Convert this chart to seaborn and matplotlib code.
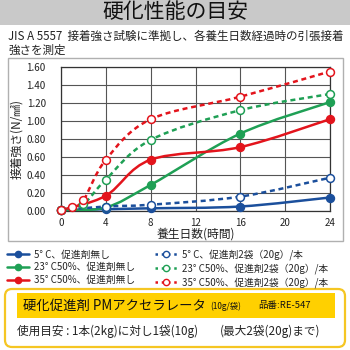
import numpy as np
import pandas as pd
import seaborn as sns
import matplotlib.pyplot as plt
from matplotlib.path import Path
from matplotlib.patches import PathPatch, Rectangle, FancyBboxPatch
from matplotlib.lines import Line2D

# curing hours and bond strength (N/mm2)
hours_plain = [0, 4, 8, 16, 24]
blue_plain = [0.01, 0.02, 0.03, 0.05, 0.15]
green_plain = [0.01, 0.04, 0.29, 0.86, 1.21]
red_plain = [0.01, 0.17, 0.57, 0.71, 1.02]

hours_blue_acc = [0, 4, 8, 16, 24]
blue_acc = [0.01, 0.05, 0.07, 0.16, 0.37]
hours_green_acc = [0, 2, 4, 8, 16, 24]
green_acc = [0.01, 0.08, 0.35, 0.79, 1.12, 1.30]
hours_red_acc = [0, 1, 2, 4, 8, 16, 24]
red_acc = [0.01, 0.05, 0.12, 0.57, 1.02, 1.27, 1.55]

labels_plain = ["5° C、促進剤無し", "23° C50%、促進剤無し", "35° C50%、促進剤無し"]
labels_acc = ["5° C、促進剤2袋（20g）/本", "23° C50%、促進剤2袋（20g）/本",
              "35° C50%、促進剤2袋（20g）/本"]

BLUE, GREEN, RED = "#1b4f9c", "#1fa055", "#e3141c"

sns.set_theme(style="white")
plt.rcParams["font.family"] = ["Noto Sans CJK JP", "DejaVu Sans"]


def smooth_path(xs, ys):
    # Excel style smoothed line as cubic Bezier segments through the points
    p = np.column_stack([xs, ys]).astype(float)
    n = len(p)
    verts = [p[0]]
    codes = [Path.MOVETO]
    for i in range(n - 1):
        p0 = p[i - 1] if i > 0 else p[i]
        p3 = p[i + 2] if i + 2 < n else p[i + 1]
        c1 = p[i] + (p[i + 1] - p0) / 6
        c2 = p[i + 1] - (p3 - p[i]) / 6
        verts += [c1, c2, p[i + 1]]
        codes += [Path.CURVE4] * 3
    return Path(verts, codes)


fig = plt.figure(figsize=(3.5, 3.5), dpi=100)
fig.patch.set_facecolor("white")

# header
fig.patches.append(Rectangle((0, 1 - 25 / 350), 1, 25 / 350, transform=fig.transFigure,
                             facecolor="#c9c9c9", edgecolor="none"))
fig.text(0.5, 1 - 12.5 / 350, "硬化性能の目安", ha="center", va="center",
         fontsize=15, color="#111111")
fig.text(8 / 350, 1 - 36 / 350, "JIS A 5557  接着強さ試験に準拠し、各養生日数経過時の引張接着",
         ha="left", va="center", fontsize=8.3, color="#222222")
fig.text(8 / 350, 1 - 50 / 350, "強さを測定", ha="left", va="center", fontsize=8.3,
         color="#222222")

# chart frame
fig.patches.append(Rectangle((8 / 350, 1 - 241 / 350), 335 / 350, 183 / 350,
                             transform=fig.transFigure, facecolor="none",
                             edgecolor="#b0b0b0", linewidth=1))

ax = fig.add_axes([61 / 350, 1 - 211 / 350, 269 / 350, 144 / 350])
ax.set_xlim(0, 24)
ax.set_ylim(0, 1.6)
ax.set_xticks(range(0, 25, 4))
ax.set_yticks(np.arange(0, 1.61, 0.2))
ax.set_yticklabels([f"{v:.2f}" for v in np.arange(0, 1.61, 0.2)])
ax.grid(True, color="#555555", linewidth=0.8)
for s in ax.spines.values():
    s.set_color("#333333")
    s.set_linewidth(0.9)
ax.tick_params(axis="y", length=0, labelsize=7, colors="#222222", pad=11)
ax.tick_params(axis="x", length=0, labelsize=7, colors="#222222", pad=5)

series = [
    (hours_plain, blue_plain, BLUE, "-", True),
    (hours_plain, green_plain, GREEN, "-", True),
    (hours_plain, red_plain, RED, "-", True),
    (hours_blue_acc, blue_acc, BLUE, (0, (2, 1.5)), False),
    (hours_green_acc, green_acc, GREEN, (0, (2, 1.5)), False),
    (hours_red_acc, red_acc, RED, (0, (2, 1.5)), False),
]
for xs, ys, col, ls, filled in series:
    ax.add_patch(PathPatch(smooth_path(xs, ys), facecolor="none", edgecolor=col,
                           linewidth=1.8, linestyle=ls, zorder=3))
for xs, ys, col, ls, filled in series:
    df = pd.DataFrame({"h": xs, "v": ys})
    sns.scatterplot(data=df, x="h", y="v", ax=ax, s=32, marker="o",
                    facecolor=col if filled else "white", edgecolor=col,
                    linewidth=1.1, zorder=4, clip_on=False)
ax.set_xlabel("養生日数(時間)", fontsize=8.5, labelpad=0, color="#222222")
ax.set_ylabel("接着強さ(N/㎟)", fontsize=8.5, labelpad=2, color="#222222")

# legend
handles = []
for col in (BLUE, GREEN, RED):
    handles.append(Line2D([], [], color=col, lw=1.8, marker="o", markersize=4.5,
                          markerfacecolor=col, markeredgecolor=col))
for col in (BLUE, GREEN, RED):
    handles.append(Line2D([], [], color=col, lw=1.8, ls=(0, (1, 1.5)), marker="o",
                          markersize=4.5, markerfacecolor="white", markeredgecolor=col))
fig.legend(handles, labels_plain + labels_acc, ncol=2, loc="upper left",
           bbox_to_anchor=(7 / 350, 1 - 249 / 350), frameon=False, fontsize=7.0,
           handlelength=2.3, handletextpad=0.5, columnspacing=2.0, labelspacing=0.3,
           borderaxespad=0, borderpad=0)

# product box
fig.patches.append(FancyBboxPatch((5 / 350, 3 / 350), 340 / 350, 58 / 350,
                                  boxstyle="round,pad=0,rounding_size=0.02",
                                  transform=fig.transFigure, facecolor="white",
                                  edgecolor="#f5c623", linewidth=1.6))
fig.patches.append(Rectangle((17 / 350, 1 - 318 / 350), 318 / 350, 25 / 350,
                             transform=fig.transFigure, facecolor="#ffd000",
                             edgecolor="none"))
fig.text(23 / 350, 1 - 305.5 / 350, "硬化促進剤 PMアクセラレータ", ha="left", va="center",
         fontsize=9.6, color="#111111")
fig.text(210 / 350, 1 - 306.5 / 350, "(10g/袋)", ha="left", va="center", fontsize=6,
         color="#111111")
fig.text(258 / 350, 1 - 305.5 / 350, "品番:RE-547", ha="left", va="center", fontsize=6.8,
         color="#111111")
fig.text(17 / 350, 1 - 331 / 350, "使用目安 : 1本(2kg)に対し1袋(10g)",
         ha="left", va="center", fontsize=8.4, color="#222222")
fig.text(220 / 350, 1 - 331 / 350, "(最大2袋(20g)まで)",
         ha="left", va="center", fontsize=8.4, color="#222222")

fig.savefig("out.png", dpi=100)
